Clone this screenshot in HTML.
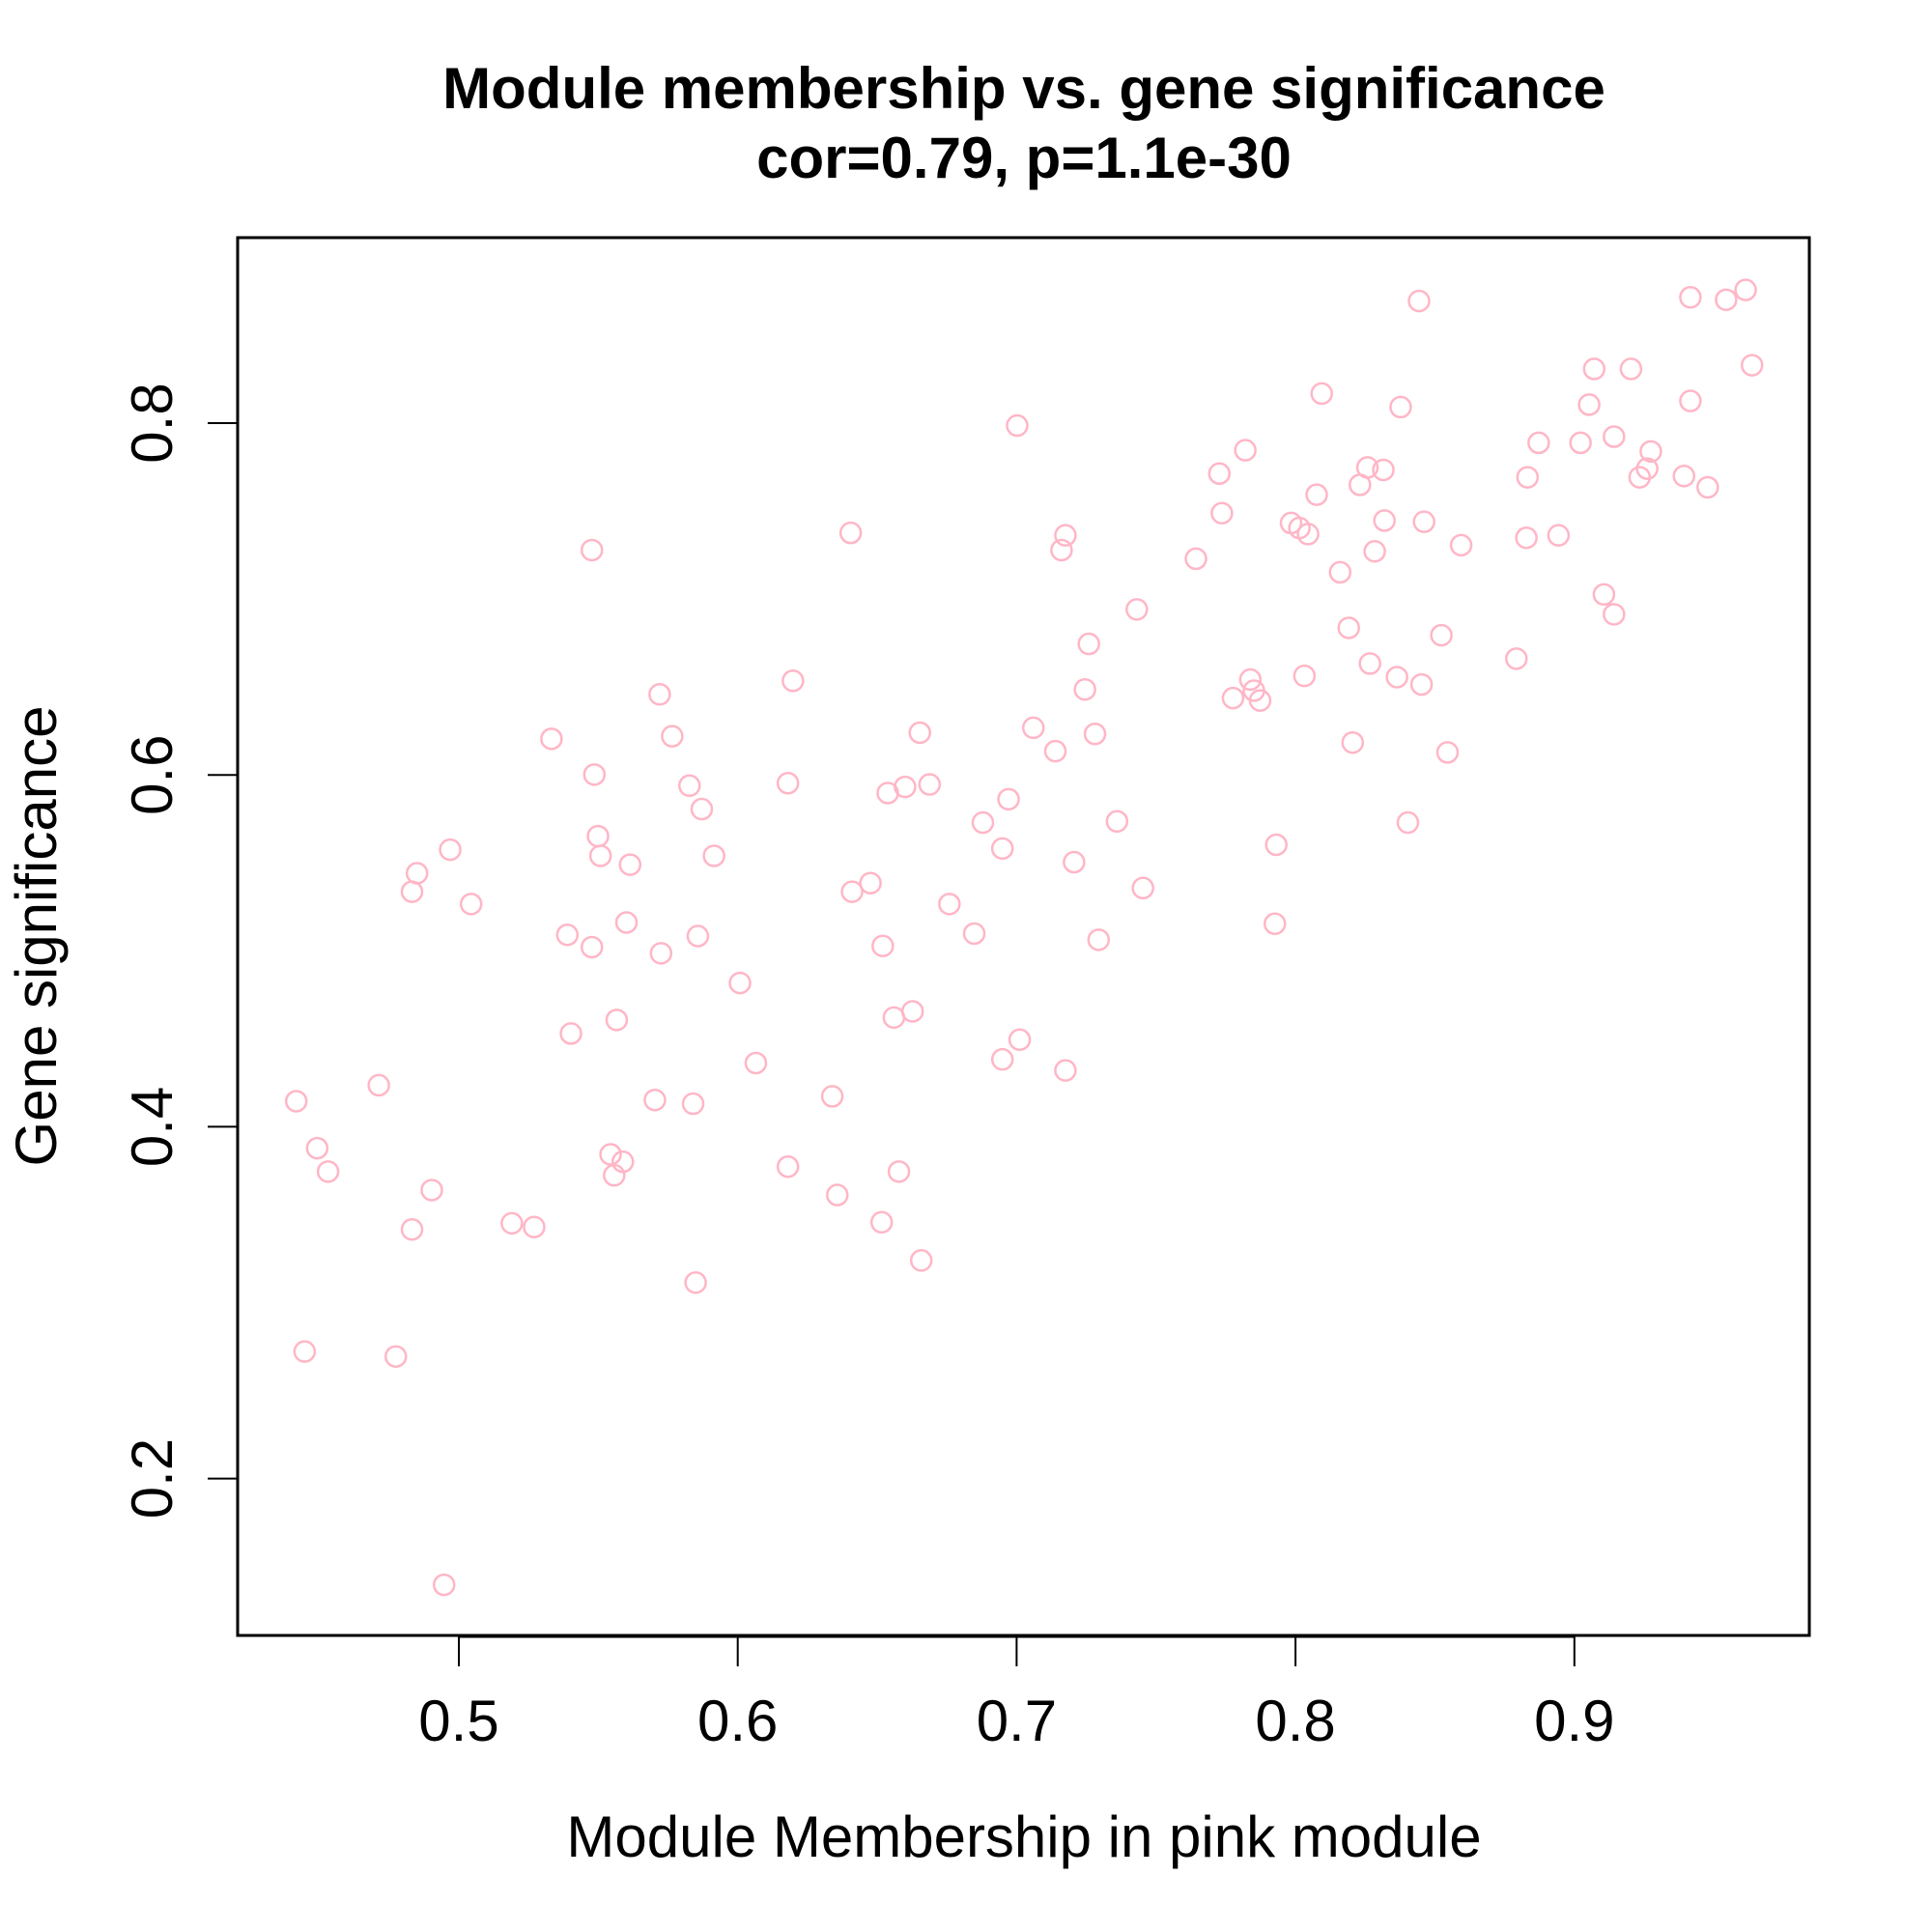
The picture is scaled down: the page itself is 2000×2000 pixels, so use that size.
<!DOCTYPE html>
<html><head><meta charset="utf-8"><style>
html,body{margin:0;padding:0;background:#fff;}
svg{display:block;font-family:"Liberation Sans",Arial,sans-serif;}
</style></head><body>
<svg id="chart" width="2000" height="2000" viewBox="0 0 2000 2000" xmlns="http://www.w3.org/2000/svg">
<rect width="2000" height="2000" fill="#fff"/>
<text x="1060" y="112" text-anchor="middle" font-size="60" font-weight="bold">Module membership vs. gene significance</text>
<text x="1060" y="184" text-anchor="middle" font-size="60" font-weight="bold">cor=0.79, p=1.1e-30</text>
<rect x="246" y="246" width="1627" height="1447" fill="none" stroke="#000" stroke-width="3"/>
<g id="xaxis"></g>
<g id="yaxis"></g>
<g id="points"></g>
<text x="1060" y="1922" text-anchor="middle" font-size="60">Module Membership in pink module</text>
<text transform="translate(58,969) rotate(-90)" text-anchor="middle" font-size="60">Gene significance</text>
</svg>
<script>
const xTicks = [0.5, 0.6, 0.7, 0.8, 0.9];
const xTickLabels = ["0.5", "0.6", "0.7", "0.8", "0.9"];
const yTicks = [0.2, 0.4, 0.6, 0.8];
const yTickLabels = ["0.2", "0.4", "0.6", "0.8"];
const mmValues = [0.4417,0.4492,0.4531,0.4447,0.4713,0.4774,0.4903,0.4832,0.4832,0.4850,0.4969,0.5044,0.4947,0.5190,0.5270,0.5332,0.5389,0.5402,0.5477,0.5486,0.5499,0.5508,0.5477,0.5601,0.5614,0.5566,0.5720,0.5765,0.5725,0.5703,0.5840,0.5544,0.5588,0.5557,0.5827,0.5871,0.5915,0.5857,0.5849,0.6008,0.6065,0.6180,0.6198,0.6180,0.6339,0.6357,0.6405,0.6410,0.6476,0.6516,0.6520,0.6538,0.6600,0.6560,0.6627,0.6578,0.6653,0.6688,0.6658,0.6759,0.6848,0.6879,0.6971,0.6949,0.7002,0.7011,0.6949,0.7060,0.7139,0.7161,0.7175,0.7175,0.7206,0.7245,0.7259,0.7281,0.7294,0.7360,0.7431,0.7453,0.7643,0.7727,0.7736,0.7820,0.7776,0.7838,0.7851,0.7873,0.7931,0.7926,0.7984,0.8014,0.8045,0.8032,0.8076,0.8094,0.8160,0.8191,0.8205,0.8231,0.8258,0.8267,0.8284,0.8315,0.8319,0.8377,0.8364,0.8443,0.8452,0.8461,0.8403,0.8523,0.8545,0.8594,0.8792,0.8828,0.8832,0.8872,0.8943,0.9022,0.9053,0.9071,0.9106,0.9142,0.9142,0.9203,0.9234,0.9261,0.9274,0.9393,0.9416,0.9416,0.9478,0.9544,0.9614,0.9637];
const gsValues = [0.4145,0.3878,0.3745,0.2722,0.4236,0.2694,0.3640,0.3416,0.5336,0.5441,0.5575,0.5266,0.1396,0.3451,0.3430,0.6205,0.5091,0.4530,0.7278,0.6002,0.5652,0.5540,0.5021,0.5161,0.5490,0.4607,0.6458,0.6220,0.4986,0.4152,0.4131,0.3843,0.3801,0.3724,0.5939,0.5806,0.5540,0.5084,0.3114,0.4817,0.4362,0.5953,0.6535,0.3773,0.4173,0.3612,0.7376,0.5336,0.5385,0.3457,0.5028,0.5897,0.5932,0.4621,0.4656,0.3745,0.6240,0.5946,0.3240,0.5266,0.5098,0.5729,0.5862,0.5582,0.7986,0.4495,0.4383,0.6268,0.6135,0.7278,0.7362,0.4320,0.5504,0.6486,0.6745,0.6233,0.5063,0.5736,0.6941,0.5357,0.7229,0.7713,0.7488,0.7846,0.6437,0.6542,0.6479,0.6423,0.5603,0.5154,0.7432,0.7404,0.7369,0.6563,0.7593,0.8168,0.7152,0.6836,0.6184,0.7649,0.7748,0.6633,0.7271,0.7734,0.7446,0.8091,0.6556,0.8694,0.6514,0.7439,0.5729,0.6794,0.6128,0.7306,0.6661,0.7348,0.7692,0.7888,0.7362,0.7888,0.8105,0.8308,0.7026,0.7923,0.6913,0.8308,0.7692,0.7741,0.7839,0.7699,0.8126,0.8715,0.7635,0.8701,0.8757,0.8329];

const NS = "http://www.w3.org/2000/svg";
function xScale(v){ return 475 + (v - 0.5) * 2887; }
function yScale(v){ return 438 - (v - 0.8) * 1821; }

const xg = document.getElementById('xaxis');
const xl = document.createElementNS(NS,'line');


xl.setAttribute('x1',xScale(xTicks[0])); xl.setAttribute('x2',xScale(xTicks[xTicks.length-1]));
xl.setAttribute('y1',1694); xl.setAttribute('y2',1694); xl.setAttribute('stroke','#000'); xl.setAttribute('stroke-width','3');
xg.appendChild(xl);
xTicks.forEach((t,i)=>{
  const x = xScale(t);
  const tk = document.createElementNS(NS,'line');
  
  
  tk.setAttribute('x1',x); tk.setAttribute('x2',x); tk.setAttribute('y1',1694); tk.setAttribute('y2',1725);
  tk.setAttribute('stroke','#000'); tk.setAttribute('stroke-width','2');
  xg.appendChild(tk);
  const lb = document.createElementNS(NS,'text');
  
  
  lb.setAttribute('x',x); lb.setAttribute('y',1802); lb.setAttribute('text-anchor','middle'); lb.setAttribute('font-size','60');
  lb.textContent = xTickLabels[i];
  xg.appendChild(lb);
});

const yg = document.getElementById('yaxis');
const yl = document.createElementNS(NS,'line');


yl.setAttribute('x1',246); yl.setAttribute('x2',246);
yl.setAttribute('y1',yScale(yTicks[0])); yl.setAttribute('y2',yScale(yTicks[yTicks.length-1]));
yl.setAttribute('stroke','#000'); yl.setAttribute('stroke-width','3');
yg.appendChild(yl);
yTicks.forEach((t,i)=>{
  const y = yScale(t);
  const tk = document.createElementNS(NS,'line');
  
  
  tk.setAttribute('x1',246); tk.setAttribute('x2',215); tk.setAttribute('y1',y); tk.setAttribute('y2',y);
  tk.setAttribute('stroke','#000'); tk.setAttribute('stroke-width','2');
  yg.appendChild(tk);
  const lb = document.createElementNS(NS,'text');
  
  
  lb.setAttribute('transform','translate(178,'+y+') rotate(-90)');
  lb.setAttribute('text-anchor','middle'); lb.setAttribute('font-size','60');
  lb.textContent = yTickLabels[i];
  yg.appendChild(lb);
});

const pg = document.getElementById('points');
mmValues.forEach((v,i)=>{
  const c = document.createElementNS(NS,'circle');
  
  
  c.setAttribute('cx',xScale(v)); c.setAttribute('cy',yScale(gsValues[i])); c.setAttribute('r','10.5');
  c.setAttribute('fill','none'); c.setAttribute('stroke','#FFB6C6'); c.setAttribute('stroke-width','2.5');
  pg.appendChild(c);
});
</script>
</body></html>
